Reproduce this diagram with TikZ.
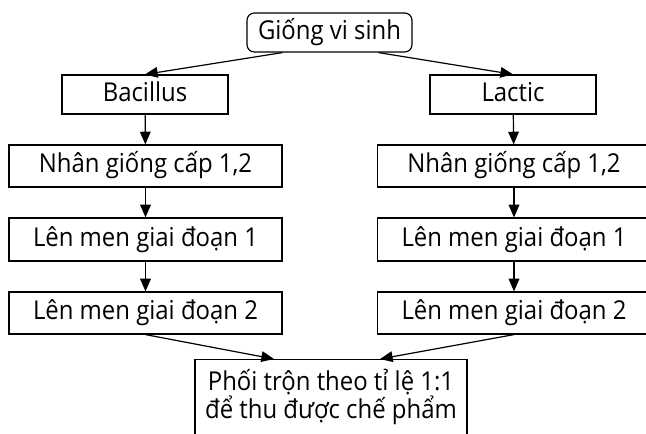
\documentclass[tikz,border=0pt]{standalone}
\usepackage{fontspec}
\setmainfont{Open Sans}[FakeStretch=0.92]
\usetikzlibrary{arrows.meta}
\begin{document}
\begin{tikzpicture}[x=0.75pt,y=-0.75pt,
  every node/.style={font=\fontsize{19.5pt}{20.25pt}\selectfont, inner sep=0pt},
  box/.style={draw, line width=0.9pt, minimum height=#1*0.75pt, text height=14pt, text depth=4pt},
  box/.default=40,
  topbox/.style={draw, line width=0.9pt, rounded corners=5.5pt, minimum width=165*0.75pt, minimum height=39*0.75pt},
  arr/.style={line width=0.9pt, -{Triangle[length=9.5pt,width=8pt]}}
]
\useasboundingbox (0,0) rectangle (646,434);
\clip (0,0) rectangle (646,434);

\node[topbox] (top) at (329.5,32.5) {Giống vi sinh};

\node[box=39, minimum width=166*0.75pt] (bac) at (145,94.5) {Bacillus};
\node[box=39, minimum width=166*0.75pt] (lac) at (513,94.5) {Lactic};

\node[box=42, minimum width=273*0.75pt] (n1) at (145.5,166) {Nhân giống cấp 1,2};
\node[box=43, minimum width=273*0.75pt] (a1) at (145.5,239.5) {Lên men giai đoạn 1};
\node[box=42, minimum width=273*0.75pt] (b1) at (145.5,313) {Lên men giai đoạn 2};

\node[box=42, minimum width=273*0.75pt] (n2) at (514,166) {Nhân giống cấp 1,2};
\node[box=43, minimum width=273*0.75pt] (a2) at (514,239.5) {Lên men giai đoạn 1};
\node[box=42, minimum width=273*0.75pt] (b2) at (514,313) {Lên men giai đoạn 2};

\node[draw, line width=0.9pt, minimum width=272*0.75pt, anchor=north, inner ysep=7pt, align=center] (mix) at (331,359)
  {Phối trộn theo tỉ lệ 1:1\\[0pt]để thu được chế phẩm\rule[-16pt]{0pt}{16pt}};

\draw[arr] ([xshift=-47*0.75pt]top.south) -- (bac.north);
\draw[arr] ([xshift=49*0.75pt]top.south) -- (lac.north);
\draw[arr] (bac) -- (n1);
\draw[arr] (lac) -- (n2);
\draw[arr] (n1) -- (a1);
\draw[arr] (a1) -- (b1);
\draw[arr] (n2) -- (a2);
\draw[arr] (a2) -- (b2);
\draw[arr] (b1.south) -- ([xshift=-57*0.75pt]mix.north);
\draw[arr] (b2.south) -- ([xshift=49*0.75pt]mix.north);
\end{tikzpicture}
\end{document}
